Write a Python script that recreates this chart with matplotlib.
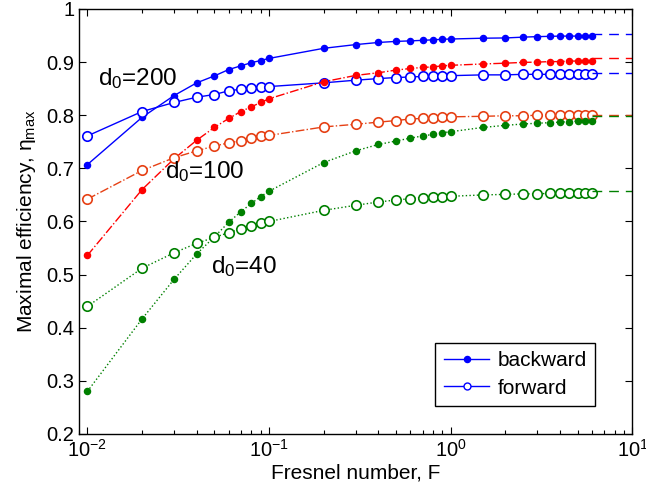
import numpy as np
import matplotlib
matplotlib.use("Agg")
import matplotlib.pyplot as plt
from matplotlib.lines import Line2D

plt.rcParams['font.family'] = ['Liberation Sans', 'DejaVu Sans']
plt.rcParams['mathtext.default'] = 'regular'

# Fresnel numbers
F = [0.01, 0.02, 0.03, 0.04, 0.05, 0.06, 0.07, 0.08, 0.09, 0.1,
     0.2, 0.3, 0.4, 0.5, 0.6, 0.7, 0.8, 0.9, 1.0,
     1.5, 2.0, 2.5, 3.0, 3.5, 4.0, 4.5, 5.0, 5.5, 6.0]

# d0 = 200
back_200 = [0.707, 0.796, 0.837, 0.861, 0.874, 0.886, 0.893, 0.899, 0.903, 0.907,
            0.926, 0.933, 0.937, 0.939, 0.940, 0.941, 0.942, 0.943, 0.9435,
            0.945, 0.9455, 0.947, 0.948, 0.9485, 0.949, 0.949, 0.949, 0.949, 0.949]
fwd_200 = [0.761, 0.807, 0.824, 0.834, 0.839, 0.846, 0.849, 0.851, 0.853, 0.854,
           0.861, 0.866, 0.869, 0.871, 0.872, 0.873, 0.874, 0.874, 0.8745,
           0.876, 0.876, 0.877, 0.877, 0.877, 0.878, 0.878, 0.878, 0.878, 0.878]
# d0 = 100
back_100 = [0.536, 0.660, 0.718, 0.753, 0.777, 0.794, 0.807, 0.816, 0.824, 0.831,
            0.863, 0.875, 0.880, 0.885, 0.888, 0.890, 0.891, 0.893, 0.894,
            0.8965, 0.898, 0.8995, 0.900, 0.901, 0.901, 0.902, 0.902, 0.902, 0.902]
fwd_100 = [0.642, 0.696, 0.720, 0.733, 0.742, 0.748, 0.752, 0.757, 0.760, 0.762,
           0.778, 0.783, 0.787, 0.790, 0.793, 0.794, 0.795, 0.796, 0.797,
           0.798, 0.799, 0.799, 0.800, 0.800, 0.800, 0.801, 0.801, 0.801, 0.801]
# d0 = 40
back_40 = [0.280, 0.4165, 0.491, 0.539, 0.571, 0.5985, 0.6185, 0.634, 0.647, 0.657,
           0.711, 0.733, 0.745, 0.7515, 0.757, 0.761, 0.764, 0.767, 0.769,
           0.777, 0.781, 0.7835, 0.785, 0.786, 0.787, 0.788, 0.789, 0.790, 0.790]
fwd_40 = [0.440, 0.512, 0.541, 0.559, 0.570, 0.579, 0.586, 0.592, 0.5966, 0.600,
          0.621, 0.6305, 0.6367, 0.6405, 0.643, 0.645, 0.646, 0.647, 0.6474,
          0.650, 0.651, 0.652, 0.652, 0.653, 0.653, 0.654, 0.654, 0.654, 0.654]

# limits for F -> infinity (dashed tails)
asym_F = [6.0, 10.0]
asym = {'b200': 0.952, 'f200': 0.880, 'b100': 0.907, 'f100': 0.801,
        'b40': 0.799, 'f40': 0.657}

blue = (0, 0, 1)
red = (1, 0, 0)
orange_red = (0.9, 0.25, 0.08)
green = (0, 0.5, 0)

fig = plt.figure(figsize=(6.46, 4.97), dpi=100)
ax = fig.add_axes([0.1223, 0.1268, 0.8567, 0.8551])

fs = 4.4   # filled marker size
os_ = 6.8  # open marker size
lw = 1.0
dash = (0, (7, 5))

def curve(y, c, ls, filled, tail):
    if filled:
        ax.plot(F, y, linestyle=ls, color=c, lw=lw, marker='o', ms=fs,
                mfc=c, mec=c)
    else:
        ax.plot(F, y, linestyle=ls, color=c, lw=lw, marker='o', ms=os_,
                mfc='white', mec=c, mew=1.2)
    ax.plot(asym_F, [tail, tail], linestyle=dash, color=c, lw=lw)

curve(back_200, blue, '-', True, asym['b200'])
curve(fwd_200, blue, '-', False, asym['f200'])
curve(back_100, red, '-.', True, asym['b100'])
curve(fwd_100, orange_red, '-.', False, asym['f100'])
curve(back_40, green, ':', True, asym['b40'])
curve(fwd_40, green, ':', False, asym['f40'])

ax.text(0.01146, 0.857, r'd$_0$=200', fontsize=17.5, va='baseline')
ax.text(0.0267, 0.682, r'd$_0$=100', fontsize=17.5, va='baseline')
ax.text(0.0479, 0.503, r'd$_0$=40', fontsize=17.5, va='baseline')

ax.set_xscale('log')
ax.set_xlim(0.009, 10)
ax.set_ylim(0.2, 1.0)
ax.set_yticks(np.arange(0.2, 1.01, 0.1))
ax.set_yticklabels(['0.2', '0.3', '0.4', '0.5', '0.6', '0.7', '0.8', '0.9', '1'])
ax.tick_params(which='both', direction='in', top=True, right=True, labelsize=14.5)
ax.tick_params(which='major', length=5, width=0.8)
ax.tick_params(which='minor', length=3, width=0.8)
for s in ax.spines.values():
    s.set_linewidth(1.0)

ax.set_xlabel('Fresnel number, F', fontsize=15, labelpad=2)
ax.set_ylabel(r'Maximal efficiency, $\eta_{max}$', fontsize=15, labelpad=6)

handles = [Line2D([], [], color=blue, lw=lw, marker='o', ms=fs, mfc=blue, mec=blue),
           Line2D([], [], color=blue, lw=lw, marker='o', ms=5, mfc='white', mec=blue)]
leg = ax.legend(handles, ['backward', 'forward'], loc='lower right',
                bbox_to_anchor=(0.933, 0.066), borderaxespad=0, fontsize=15,
                fancybox=False, framealpha=1, edgecolor='black',
                handlelength=2.2, handletextpad=0.4, borderpad=0.4,
                labelspacing=0.4)
leg.get_frame().set_linewidth(1.0)

fig.savefig('out.png', dpi=100)
